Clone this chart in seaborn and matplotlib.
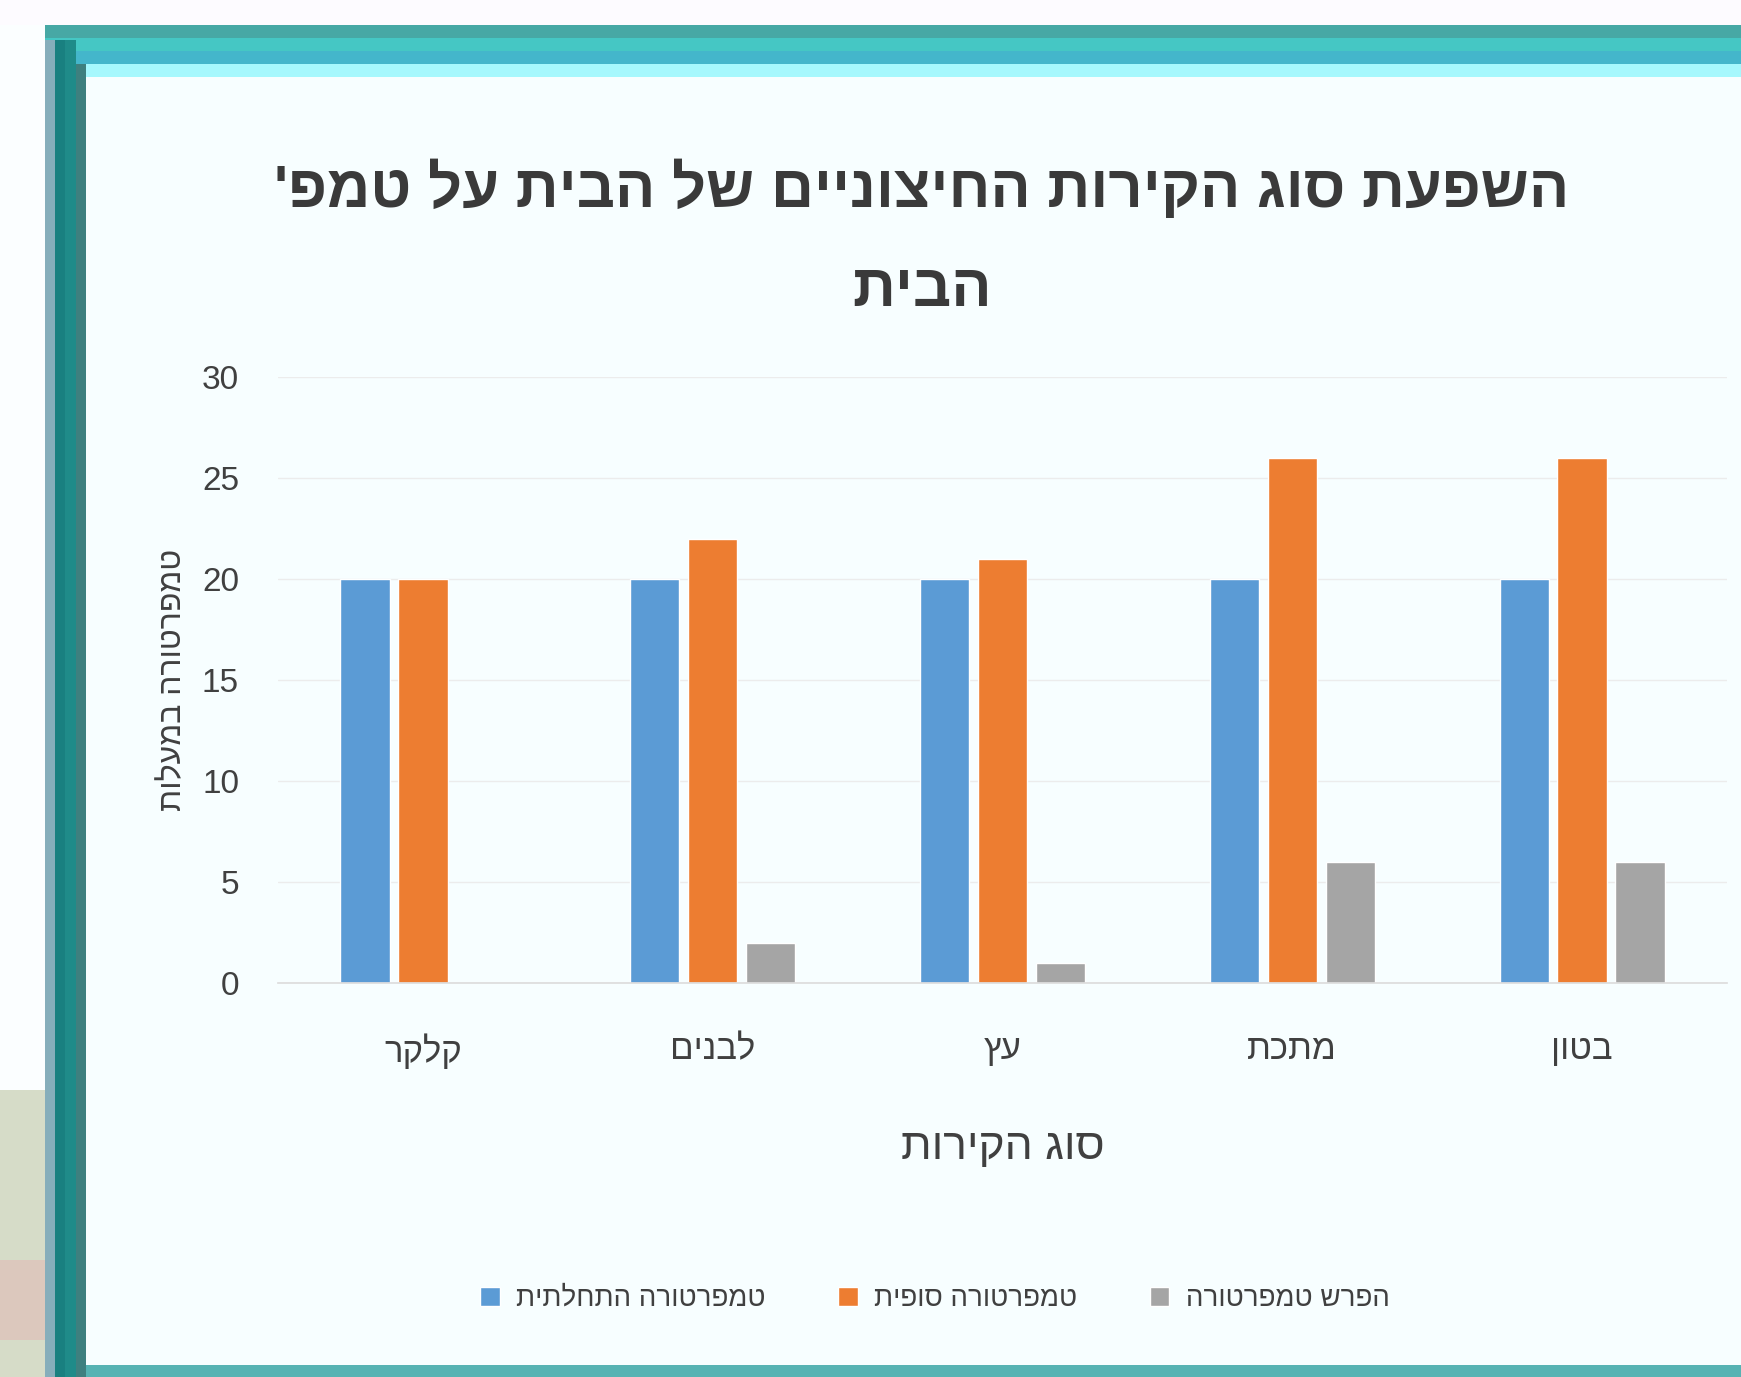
import matplotlib
matplotlib.use("Agg")
import matplotlib.pyplot as plt
import seaborn as sns
import pandas as pd
from matplotlib.patches import Rectangle

# Wall materials tested and the measured temperatures (degrees C)
categories = ["קלקר", "לבנים", "עץ", "מתכת", "בטון"]
start_temp = [20, 20, 20, 20, 20]
end_temp = [20, 22, 21, 26, 26]
temp_change = [0, 2, 1, 6, 6]
series_names = ["טמפרטורה התחלתית", "טמפרטורה סופית", "הפרש טמפרטורה"]
y_ticks = [0, 5, 10, 15, 20, 25, 30]
title_lines = ["השפעת סוג הקירות החיצוניים של הבית על טמפ'", "הבית"]
x_label = "סוג הקירות"
y_label = "טמפרטורה במעלות"

colors = ["#5B9BD5", "#ED7D31", "#A5A5A5"]
text_color = "#404040"


def rtl(s):
    # matplotlib lays glyphs out left to right, so Hebrew is reversed first
    return s[::-1]


rows = []
for name, values in zip(series_names, [start_temp, end_temp, temp_change]):
    for cat, v in zip(categories, values):
        rows.append({"material": rtl(cat), "series": rtl(name), "value": v})
df = pd.DataFrame(rows)

sns.set_theme(style="white")
plt.rcParams["font.family"] = ["Liberation Sans", "DejaVu Sans"]

W, H = 1741, 1377
fig = plt.figure(figsize=(W / 100, H / 100), dpi=100)
fig.patch.set_facecolor("#fbfeff")


def frame_rect(x0, y0, x1, y1, color, z=0):
    fig.patches.append(Rectangle((x0 / W, 1 - y1 / H), (x1 - x0) / W, (y1 - y0) / H,
                                 transform=fig.transFigure, color=color, zorder=z, lw=0))


# slide frame around the chart
frame_rect(0, 0, W, 25, "#fdfbff")
frame_rect(45, 25, W, 38, "#47a8a5")
frame_rect(45, 38, W, 51, "#45c7c4")
frame_rect(45, 51, W, 64, "#44b6cb")
frame_rect(45, 64, W, 77, "#a6f8fd")
frame_rect(86, 77, W, 1365, "#f7feff")
frame_rect(45, 40, 55, 1377, "#86aebb")
frame_rect(55, 40, 65, 1377, "#198080")
frame_rect(65, 40, 76, 1377, "#1f8b89")
frame_rect(76, 64, 86, 1377, "#3e807f")
frame_rect(86, 1365, W, 1377, "#56b3b3")
frame_rect(0, 1090, 45, 1377, "#d6dcc8")
frame_rect(0, 1260, 45, 1340, "#dcc8bd")

ax = fig.add_axes([278 / W, 1 - 983 / H, (1727 - 278) / W, (983 - 377) / H])
ax.set_zorder(5)
ax.set_facecolor("none")

sns.barplot(data=df, x="material", y="value", hue="series",
            hue_order=[rtl(s) for s in series_names],
            order=[rtl(c) for c in categories],
            palette=colors, width=0.6, gap=0.15, ax=ax, legend=True,
            saturation=1)

ax.set_ylim(0, 30)
ax.set_yticks(y_ticks)
ax.set_yticklabels([str(t) for t in y_ticks], fontsize=24, color=text_color)
ax.tick_params(axis="x", labelsize=25, colors=text_color, length=0, pad=36)
ax.tick_params(axis="y", length=0, pad=28)
ax.yaxis.grid(True, color="#ececec", lw=1)
ax.set_axisbelow(True)
for s in ["top", "right", "left"]:
    ax.spines[s].set_visible(False)
ax.spines["bottom"].set_color("#dddddd")

ax.set_xlabel(rtl(x_label), fontsize=32, color=text_color, labelpad=42)
ax.set_ylabel(rtl(y_label), fontsize=23, color=text_color, labelpad=10)

handles, labels = ax.get_legend_handles_labels()
ax.legend(handles, labels, loc="center", bbox_to_anchor=(935 / W, 1 - 1299 / H),
          bbox_transform=fig.transFigure, ncol=3, frameon=False, fontsize=20,
          labelcolor=text_color, handlelength=0.7, handleheight=0.7,
          handletextpad=0.6, columnspacing=2.6)

fig.text(922 / W, 1 - 189 / H, rtl(title_lines[0]), ha="center", va="center",
         fontsize=43, color="#3a3a3a", fontweight="bold")
fig.text(922 / W, 1 - 291 / H, rtl(title_lines[1]), ha="center", va="center",
         fontsize=43, color="#3a3a3a", fontweight="bold")

fig.savefig("out.png", dpi=100, facecolor=fig.get_facecolor())
